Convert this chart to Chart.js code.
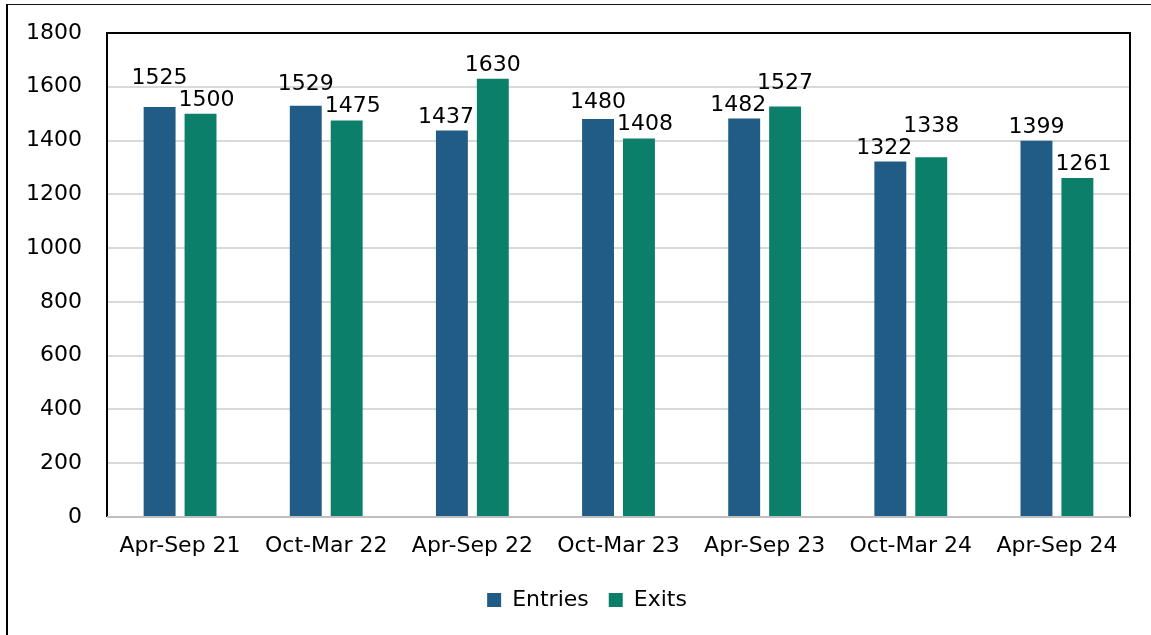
<!DOCTYPE html>
<html>
<head>
<meta charset="utf-8">
<script src="https://cdn.jsdelivr.net/npm/chart.js@4.4.0/dist/chart.umd.min.js"></script>
<style>
  body { margin: 0; background: #fff; }
  #wrap { position: relative; width: 1151px; height: 635px; overflow: hidden; }
  #frame {
    position: absolute; left: 6px; top: 4px; width: 1200px; height: 700px;
    border-left: 2px solid #000; border-top: 1px solid #111; pointer-events: none;
  }
</style>
</head>
<body>
<div id="wrap">
  <canvas id="entries_chart" width="1151" height="635"></canvas>
  <div id="frame"></div>
</div>
<script>
// periods on the x axis
const periods = ['Apr-Sep 21', 'Oct-Mar 22', 'Apr-Sep 22', 'Oct-Mar 23', 'Apr-Sep 23', 'Oct-Mar 24', 'Apr-Sep 24'];
const entries = [1525, 1529, 1437, 1480, 1482, 1322, 1399];
const exits = [1500, 1475, 1630, 1408, 1527, 1338, 1261];
const yTicks = [0, 200, 400, 600, 800, 1000, 1200, 1400, 1600, 1800];

const FONT = "'DejaVu Sans', sans-serif";

// value labels above each bar; within a pair the lower label steps outward
// and the higher one is lifted if the two would collide
const valueLabels = {
    id: 'valueLabels',
    afterDatasetsDraw(chart) {
        const ctx = chart.ctx;
        const gap = 8, sep = 22, side = 6;
        ctx.save();
        ctx.font = "22px " + FONT;
        ctx.fillStyle = '#000';
        ctx.textAlign = 'center';
        ctx.textBaseline = 'alphabetic';
        const m0 = chart.getDatasetMeta(0).data;
        const m1 = chart.getDatasetMeta(1).data;
        for (let i = 0; i < m0.length; i++) {
            let a = { text: String(entries[i]), x: m0[i].x, y: m0[i].y - gap, dir: -1 };
            let b = { text: String(exits[i]), x: m1[i].x, y: m1[i].y - gap, dir: 1 };
            let hi = a.y <= b.y ? a : b;
            let lo = hi === a ? b : a;
            lo.x += lo.dir * side;
            let w = ctx.measureText(hi.text).width;
            if (Math.abs(hi.x - lo.x) < w && lo.y - hi.y < sep) {
                hi.y = lo.y - sep;
            }
            ctx.fillText(a.text, a.x, a.y);
            ctx.fillText(b.text, b.x, b.y);
        }
        ctx.restore();
    }
};

// black box round the plot area, grey base line
const plotBox = {
    id: 'plotBox',
    beforeDatasetsDraw(chart) {
        const a = chart.chartArea;
        const ctx = chart.ctx;
        ctx.save();
        ctx.strokeStyle = '#000';
        ctx.lineWidth = 2;
        ctx.beginPath();
        ctx.moveTo(a.left, a.bottom);
        ctx.lineTo(a.left, a.top);
        ctx.lineTo(a.right, a.top);
        ctx.lineTo(a.right, a.bottom);
        ctx.stroke();
        ctx.strokeStyle = '#bfbfbf';
        ctx.beginPath();
        ctx.moveTo(a.left, a.bottom);
        ctx.lineTo(a.right, a.bottom);
        ctx.stroke();
        ctx.restore();
    }
};

// legend sits a little right of the canvas centre, as in the original
const legendShift = {
    id: 'legendShift',
    afterLayout(chart) {
        if (chart.legend) {
            chart.legend.left += 22;
            chart.legend.right += 22;
        }
    }
};

let ctx = document.getElementById('entries_chart');

var entries_chart = new Chart(ctx, {
    type: 'bar',
    data: {
        labels: periods,
        datasets: [{
            label: 'Entries',
            data: entries,
            backgroundColor: '#215c86'
        }, {
            label: 'Exits',
            data: exits,
            backgroundColor: '#0b7f6a'
        }]
    },
    options: {
        responsive: false,
        animation: false,
        categoryPercentage: 0.56,
        barPercentage: 0.78,
        layout: { padding: { left: 0, top: 33, right: 21, bottom: 14 } },
        plugins: {
            tooltip: { enabled: false },
            legend: {
                position: 'bottom',
                labels: {
                    color: '#000',
                    font: { family: FONT, size: 22 },
                    boxWidth: 14,
                    boxHeight: 14,
                    padding: 20
                }
            }
        },
        scales: {
            x: {
                grid: { display: false, drawTicks: false },
                border: { display: false },
                ticks: {
                    color: '#000',
                    font: { family: FONT, size: 22 },
                    padding: 16,
                    maxRotation: 0
                },
                afterFit: function (scale) {
                    scale.height = 52;
                    scale.paddingLeft = 0;
                    scale.paddingRight = 0;
                }
            },
            y: {
                min: 0,
                max: 1800,
                afterBuildTicks: function (scale) {
                    scale.ticks = yTicks.map(function (v) { return { value: v }; });
                },
                grid: { color: '#d9d9d9', lineWidth: 2, drawTicks: false },
                border: { display: false },
                ticks: {
                    color: '#000',
                    font: { family: FONT, size: 22 },
                    padding: 25,
                    callback: function (v) { return String(v); }
                },
                afterFit: function (scale) {
                    scale.width = 107;
                    scale.paddingTop = 0;
                    scale.paddingBottom = 0;
                }
            }
        }
    },
    plugins: [plotBox, valueLabels, legendShift]
});
</script>
</body>
</html>
